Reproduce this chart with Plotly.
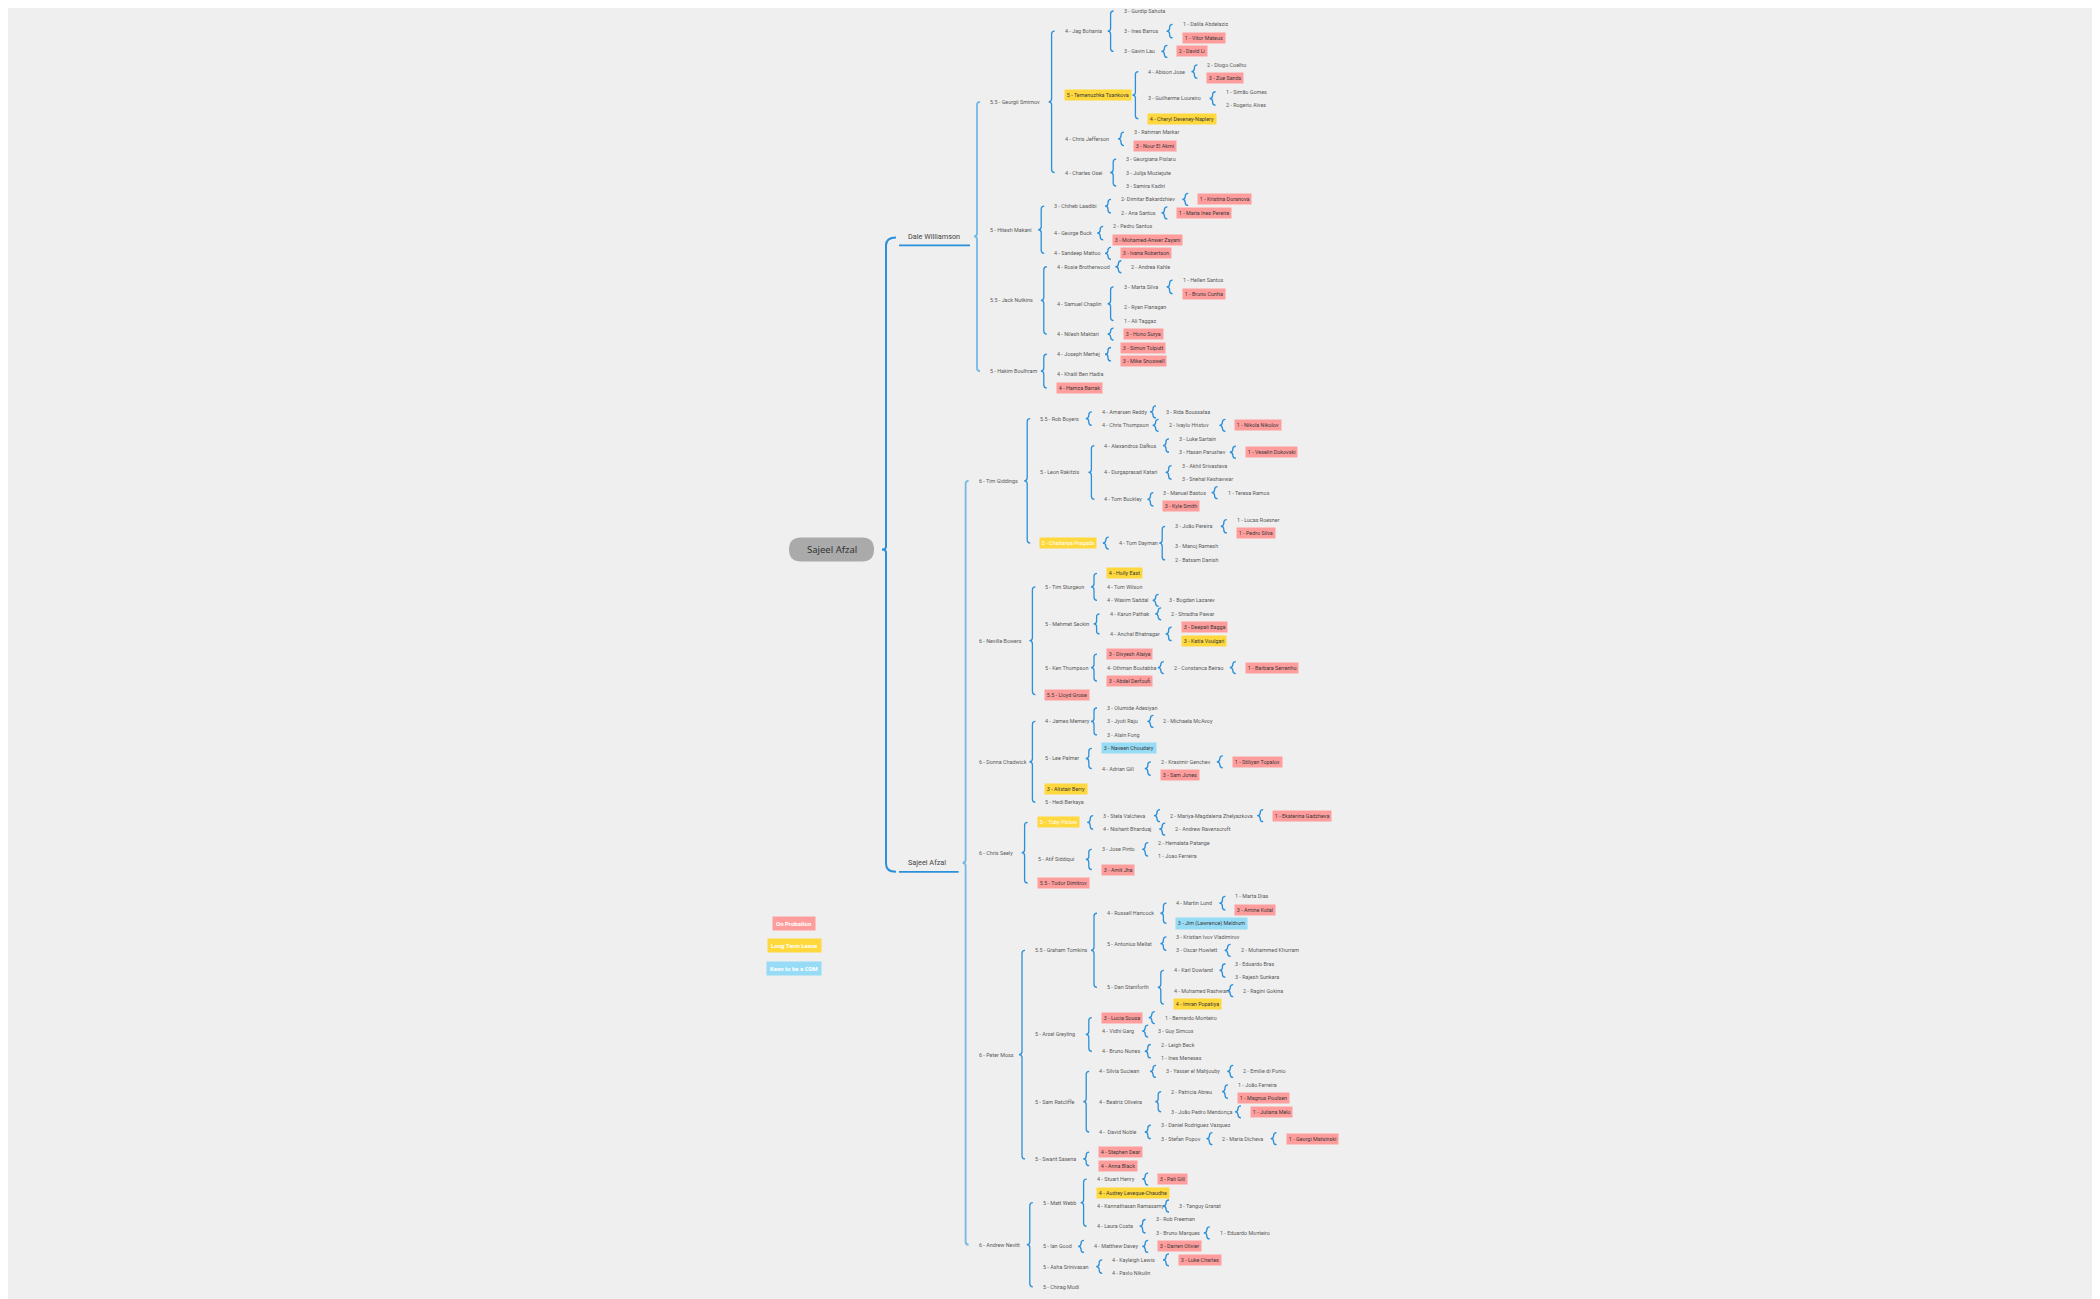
import plotly.graph_objects as go

# Outline of the org mind map: (depth, status, label); status n=normal, p=on probation, y=long term leave, b=keen to be CDM, w=yellow with white text
rows = [
(0,'n','Sajeel Afzal'),
(1,'n','Dale Williamson'),
(2,'n','5.5 - Georgii Smirnov'),
(3,'n','4 - Jag Bohania'),
(4,'n','3 - Gurdip Sahota'),
(4,'n','3 - Ines Barros'),
(5,'n','1 - Dalila Abdelaziz'),
(5,'p','1 - Vitor Mateus'),
(4,'n','3 - Gavin Lau'),
(5,'p','2 - David Li'),
(3,'y','5 - Temenuzhka Tsankova'),
(4,'n','4 - Abison Jose'),
(5,'n','2 - Diogo Coelho'),
(5,'p','3 - Zoe Sands'),
(4,'n','3 - Guilherme Loureiro'),
(5,'n','1 - Simão Gomes'),
(5,'n','2 - Rogerio Alves'),
(4,'y','4 - Cheryl Deveney-Naplery'),
(3,'n','4 - Chris Jefferson'),
(4,'n','3 - Rahman Markar'),
(4,'p','3 - Nour El Akmi'),
(3,'n','4 - Charles Osei'),
(4,'n','3 - Georgiana Pislaru'),
(4,'n','3 - Julija Moziejute'),
(4,'n','3 - Samira Kadiri'),
(2,'n','5 - Hitesh Makani'),
(3,'n','3 - Chiheb Laadibi'),
(4,'n','2- Dimitar Bakardzhiev'),
(5,'p','1 - Kristina Doranova'),
(4,'n','2 - Ana Santos'),
(5,'p','1 - Maria Ines Pereira'),
(3,'n','4 - George Buck'),
(4,'n','2 - Pedro Santos'),
(4,'p','3 - Mohamed-Anwer Zayani'),
(3,'n','4 - Sandeep Mattoo'),
(4,'p','3 - Ivana Robertson'),
(2,'n','5.5 - Jack Nutkins'),
(3,'n','4 - Rosie Brotherwood'),
(4,'n','2 - Andrea Kahle'),
(3,'n','4 - Samuel Chaplin'),
(4,'n','3 - Marta Silva'),
(5,'n','1 - Hellen Santos'),
(5,'p','1 - Bruno Cunha'),
(4,'n','2 - Ryan Flanagan'),
(4,'n','1 - Ali Taggaz'),
(3,'n','4 - Nilesh Maktari'),
(4,'p','3 - Hono Surya'),
(2,'n','5 - Hakim Boulhram'),
(3,'n','4 - Joseph Merhej'),
(4,'p','3 - Simon Tolputt'),
(4,'p','3 - Mike Snoswell'),
(3,'n','4 - Khalil Ben Hadia'),
(3,'p','4 - Hamza Barrak'),
(1,'n','Sajeel Afzal'),
(2,'n','6 - Tim Giddings'),
(3,'n','5.5 - Rob Boyers'),
(4,'n','4 - Amarsen Reddy'),
(5,'n','3 - Rida Boussalaa'),
(4,'n','4 - Chris Thompson'),
(5,'n','2 - Ivaylo Hristov'),
(6,'p','1 - Nikola Nikolov'),
(3,'n','5 - Leon Rakitzis'),
(4,'n','4 - Alexandros Dafkos'),
(5,'n','3 - Luke Sartain'),
(5,'n','3 - Hasan Parushev'),
(6,'p','1 - Veselin Dokovski'),
(4,'n','4 - Durgaprasad Katari'),
(5,'n','3 - Akhil Srivastava'),
(5,'n','3 - Snehal Keshavwar'),
(4,'n','4 - Tom Buckley'),
(5,'n','3 - Manuel Bastos'),
(6,'n','1 - Teresa Ramos'),
(5,'p','3 - Kyle Smith'),
(3,'w','5 - Chaitanya Pragada'),
(4,'n','4 - Tom Dayman'),
(5,'n','3 - João Pereira'),
(6,'n','1 - Lucas Roesner'),
(6,'p','1 - Pedro Silva'),
(5,'n','3 - Manoj Ramesh'),
(5,'n','2 - Batsam Danish'),
(2,'n','6 - Neville Bowers'),
(3,'n','5 - Tim Sturgeon'),
(4,'y','4 - Holly East'),
(4,'n','4 - Tom Wilson'),
(4,'n','4 - Wasim Saddal'),
(5,'n','3 - Bogdan Lazarev'),
(3,'n','5 - Mehmet Seckin'),
(4,'n','4 - Karun Pathak'),
(5,'n','2 - Shradha Pawar'),
(4,'n','4 - Anchal Bhatnagar'),
(5,'p','3 - Deepali Bagga'),
(5,'y','3 - Katia Voulgari'),
(3,'n','5 - Ken Thompson'),
(4,'p','3 - Divyesh Alaiya'),
(4,'n','4- Othman Boutabba'),
(5,'n','2 - Constanca Beirao'),
(6,'p','1 - Barbara Serrenho'),
(4,'p','3 - Abdel Derfoufi'),
(3,'p','5.5 - Lloyd Grose'),
(2,'n','6 - Donna Chadwick'),
(3,'n','4 - James Memery'),
(4,'n','3 - Olumide Adesiyan'),
(4,'n','3 - Jyoti Raju'),
(5,'n','2 - Michaela McAvoy'),
(4,'n','3 - Alain Fong'),
(3,'n','5 - Lee Palmer'),
(4,'b','3 - Naveen Choudary'),
(4,'n','4 - Adrian Gill'),
(5,'n','2 - Krasimir Genchev'),
(6,'p','1 - Stiliyan Topalov'),
(5,'p','3 - Sam Jones'),
(3,'y','3 - Alistair Berry'),
(3,'n','5 - Hedi Berkaya'),
(2,'n','6 - Chris Seely'),
(3,'w','5 -  Toby Pislow'),
(4,'n','3 - Stela Valcheva'),
(5,'n','2 - Mariya-Magdalena Zhelyazkova'),
(6,'p','1 - Ekaterina Gadzheva'),
(4,'n','4 - Nishant Bharduaj'),
(5,'n','2 - Andrew Ravenscroft'),
(3,'n','5 - Atif Siddiqui'),
(4,'n','3 - Jose Pinto'),
(5,'n','2 - Hemalata Patange'),
(5,'n','1 - Joao Ferreira'),
(4,'p','3 - Amit Jha'),
(3,'p','5.5 - Todor Dimitrov'),
(2,'n','6 - Peter Moss'),
(3,'n','5.5 - Graham Tomkins'),
(4,'n','4 - Russell Hancock'),
(5,'n','4 - Martin Lund'),
(6,'n','1 - Marta Dias'),
(6,'p','3 - Amine Kotal'),
(5,'b','3 - Jim (Lawrence) Meldrum'),
(4,'n','5 - Antonius Mellat'),
(5,'n','3 - Kristian Ivov Vladimirov'),
(5,'n','3 - Oscar Howlett'),
(6,'n','2 - Mohammed Khurram'),
(4,'n','5 - Dan Staniforth'),
(5,'n','4 - Karl Dowland'),
(6,'n','3 - Eduardo Bras'),
(6,'n','3 - Rajesh Sunkara'),
(5,'n','4 - Mohamed Rashwan'),
(6,'n','2 - Ragini Gokina'),
(5,'y','4 - Imran Popatiya'),
(3,'n','5 - Arzel Greyling'),
(4,'p','3 - Lucia Sousa'),
(5,'n','1 - Bernardo Monteiro'),
(4,'n','4 - Vidhi Garg'),
(5,'n','3 - Guy Simcox'),
(4,'n','4 - Bruno Nunes'),
(5,'n','2 - Leigh Beck'),
(5,'n','1 - Ines Meneses'),
(3,'n','5 - Sam Ratcliffe'),
(4,'n','4 - Silvia Suciean'),
(5,'n','3 - Yasser el Mahjouby'),
(6,'n','2 - Emilie di Ponio'),
(4,'n','4 - Beatriz Oliveira'),
(5,'n','2 - Patricia Abreu'),
(6,'n','1 - João Ferreira'),
(6,'p','1 - Magnus Poulsen'),
(5,'n','3 - João Pedro Mendonça'),
(6,'p','1 - Juliana Melo'),
(4,'n','4 -  David Noble'),
(5,'n','3 - Daniel Rodriguez Vazquez'),
(5,'n','3 - Stefan Popov'),
(6,'n','2 - Maria Dicheva'),
(7,'p','1 - Georgi Matsinski'),
(3,'n','5 - Swarit Saxena'),
(4,'p','4 - Stephen Dear'),
(4,'p','4 - Anna Black'),
(2,'n','6 - Andrew Nevitt'),
(3,'n','5 - Matt Webb'),
(4,'n','4 - Stuart Henry'),
(5,'p','3 - Pali Gill'),
(4,'y','4 - Audrey Leveque-Chaudhe'),
(4,'n','4 - Kannathasan Ramasamy'),
(5,'n','3 - Tanguy Granat'),
(4,'n','4 - Laura Costa'),
(5,'n','3 - Rob Freeman'),
(5,'n','3 - Bruno Marques'),
(6,'n','1 - Eduardo Monteiro'),
(3,'n','5 - Ian Good'),
(4,'n','4 - Matthew Davey'),
(5,'p','3 - Darren Olivier'),
(3,'n','5 - Asha Srinivasan'),
(4,'n','4 - Kayleigh Lewis'),
(5,'p','3 - Luke Charles'),
(4,'n','4 - Pavlo Nikulin'),
(3,'n','5 - Chirag Modi'),
]

legend_labels = ['On Probation', 'Long Term Leave', 'Keen to be a CDM']
legend_status = ['p', 'y', 'b']

# ---- styling / layout parameters ----
BG = '#efefef'
BLUE = '#2b90d9'
LBLUE = '#74b8e6'
FILL = {'p': '#ff9d9d', 'y': '#ffd83d', 'w': '#ffd83d', 'b': '#97dcf6'}
TXT = '#5a5a5a'
FS = 5.4
CW = 2.6
LEAF = 13.46
Y_TOP = 11
ROOT_GAP = 24 - LEAF
OFF = 8

nodes = []
stack = []
for d, st, lab in rows:
    n = {'d': d, 's': st, 't': lab, 'c': []}
    while stack and stack[-1]['d'] >= d:
        stack.pop()
    if stack:
        stack[-1]['c'].append(n)
    stack.append(n)
    nodes.append(n)
root = nodes[0]

cur = [Y_TOP]
def lay_y(n):
    if not n['c']:
        n['y'] = cur[0]
        cur[0] += LEAF
    else:
        for c in n['c']:
            lay_y(c)
        n['y'] = (n['c'][0]['y'] + n['c'][-1]['y']) / 2
for i, c in enumerate(root['c']):
    if i > 0:
        cur[0] += ROOT_GAP
    lay_y(c)
root['y'] = (root['c'][0]['y'] + root['c'][-1]['y']) / 2

def tw(n):
    w = len(n['t']) * CW
    if n['s'] != 'n':
        w += 4
    return w

shapes = []
annos = []

def brace(x, y1, y2, ym, color, width):
    if y2 - y1 < 10:
        y1, y2 = ym - 6, ym + 6
    r = min(3, (y2 - y1) / 4)
    p = (f"M {x+3},{y1} Q {x},{y1} {x},{y1+r} L {x},{ym-r} Q {x},{ym} {x-3},{ym} "
         f"Q {x},{ym} {x},{ym+r} L {x},{y2-r} Q {x},{y2} {x+3},{y2}")
    shapes.append(dict(type='path', path=p, line=dict(color=color, width=width)))

def label(n, x):
    st = n['s']
    col = TXT if st == 'n' else ('white' if st == 'w' else '#3a3a3a')
    a = dict(x=x, y=n['y'], text=n['t'], showarrow=False, xanchor='left', yanchor='middle',
             font=dict(family='Roboto', size=FS, color=col))
    if st != 'n':
        a.update(bgcolor=FILL[st], borderpad=1.8)
        a['x'] = x + 1
    annos.append(a)

def draw(n, x):
    label(n, x)
    if n['c']:
        bx = x + tw(n) + 9
        brace(bx, n['c'][0]['y'], n['c'][-1]['y'], n['y'], BLUE if len(n['c']) < 5 else LBLUE, 1.3)
        for c in n['c']:
            draw(c, bx + 11)

# root pill
ry = root['y']
x0, x1, h = 801, 862, 12
shapes.append(dict(type='path',
    path=f"M {x0},{ry-h} L {x1},{ry-h} Q {x1+h},{ry-h} {x1+h},{ry} Q {x1+h},{ry+h} {x1},{ry+h} "
         f"L {x0},{ry+h} Q {x0-h},{ry+h} {x0-h},{ry} Q {x0-h},{ry-h} {x0},{ry-h} Z",
    fillcolor='#aaaaaa', line=dict(width=0)))
annos.append(dict(x=831.5, y=ry, text='Sajeel Afzal', showarrow=False, xanchor='center', yanchor='middle',
                  font=dict(family='Noto Sans', size=9.5, color='#333')))
rx = 886
y1 = root['c'][0]['y'] + 9
y2 = root['c'][-1]['y'] + 9
shapes.append(dict(type='path',
    path=f"M 896,{y1-8} Q {rx},{y1-8} {rx},{y1} L {rx},{ry-3} Q {rx},{ry} {rx-4},{ry} "
         f"Q {rx},{ry} {rx},{ry+3} L {rx},{y2-8} Q {rx},{y2} 896,{y2}",
    line=dict(color=BLUE, width=2)))

for c in root['c']:
    annos.append(dict(x=906, y=c['y'], text=c['t'], showarrow=False, xanchor='left', yanchor='middle',
                      font=dict(family='Roboto', size=7.3, color='#444')))
    uend = 906 + len(c['t']) * 3.8 + 7
    shapes.append(dict(type='line', x0=899, x1=uend, y0=c['y'] + 9, y1=c['y'] + 9,
                       line=dict(color=BLUE, width=1.8)))
    bx = uend + 7
    brace(bx, c['c'][0]['y'], c['c'][-1]['y'], c['y'], LBLUE, 1.8)
    for g in c['c']:
        draw(g, bx + 11)

for i, (lab, st) in enumerate(zip(legend_labels, legend_status)):
    annos.append(dict(x=794, y=923 + i * 22.5, text='<b>' + lab + '</b>', showarrow=False,
                      xanchor='center', yanchor='middle', font=dict(family='Roboto', size=6, color='white'),
                      bgcolor=FILL[st], borderpad=3))

fig = go.Figure()
fig.add_trace(go.Scatter(x=[OFF, 2100], y=[OFF, 1299], mode='markers', marker=dict(opacity=0), hoverinfo='skip'))
fig.update_layout(width=2100, height=1299, margin=dict(l=0, r=0, t=0, b=0),
                  paper_bgcolor=BG, plot_bgcolor=BG, showlegend=False,
                  xaxis=dict(range=[OFF, 2100 + OFF], visible=False, fixedrange=True),
                  yaxis=dict(range=[1299 + OFF, OFF], visible=False, fixedrange=True),
                  shapes=shapes, annotations=annos)
fig.write_html('out.html')
